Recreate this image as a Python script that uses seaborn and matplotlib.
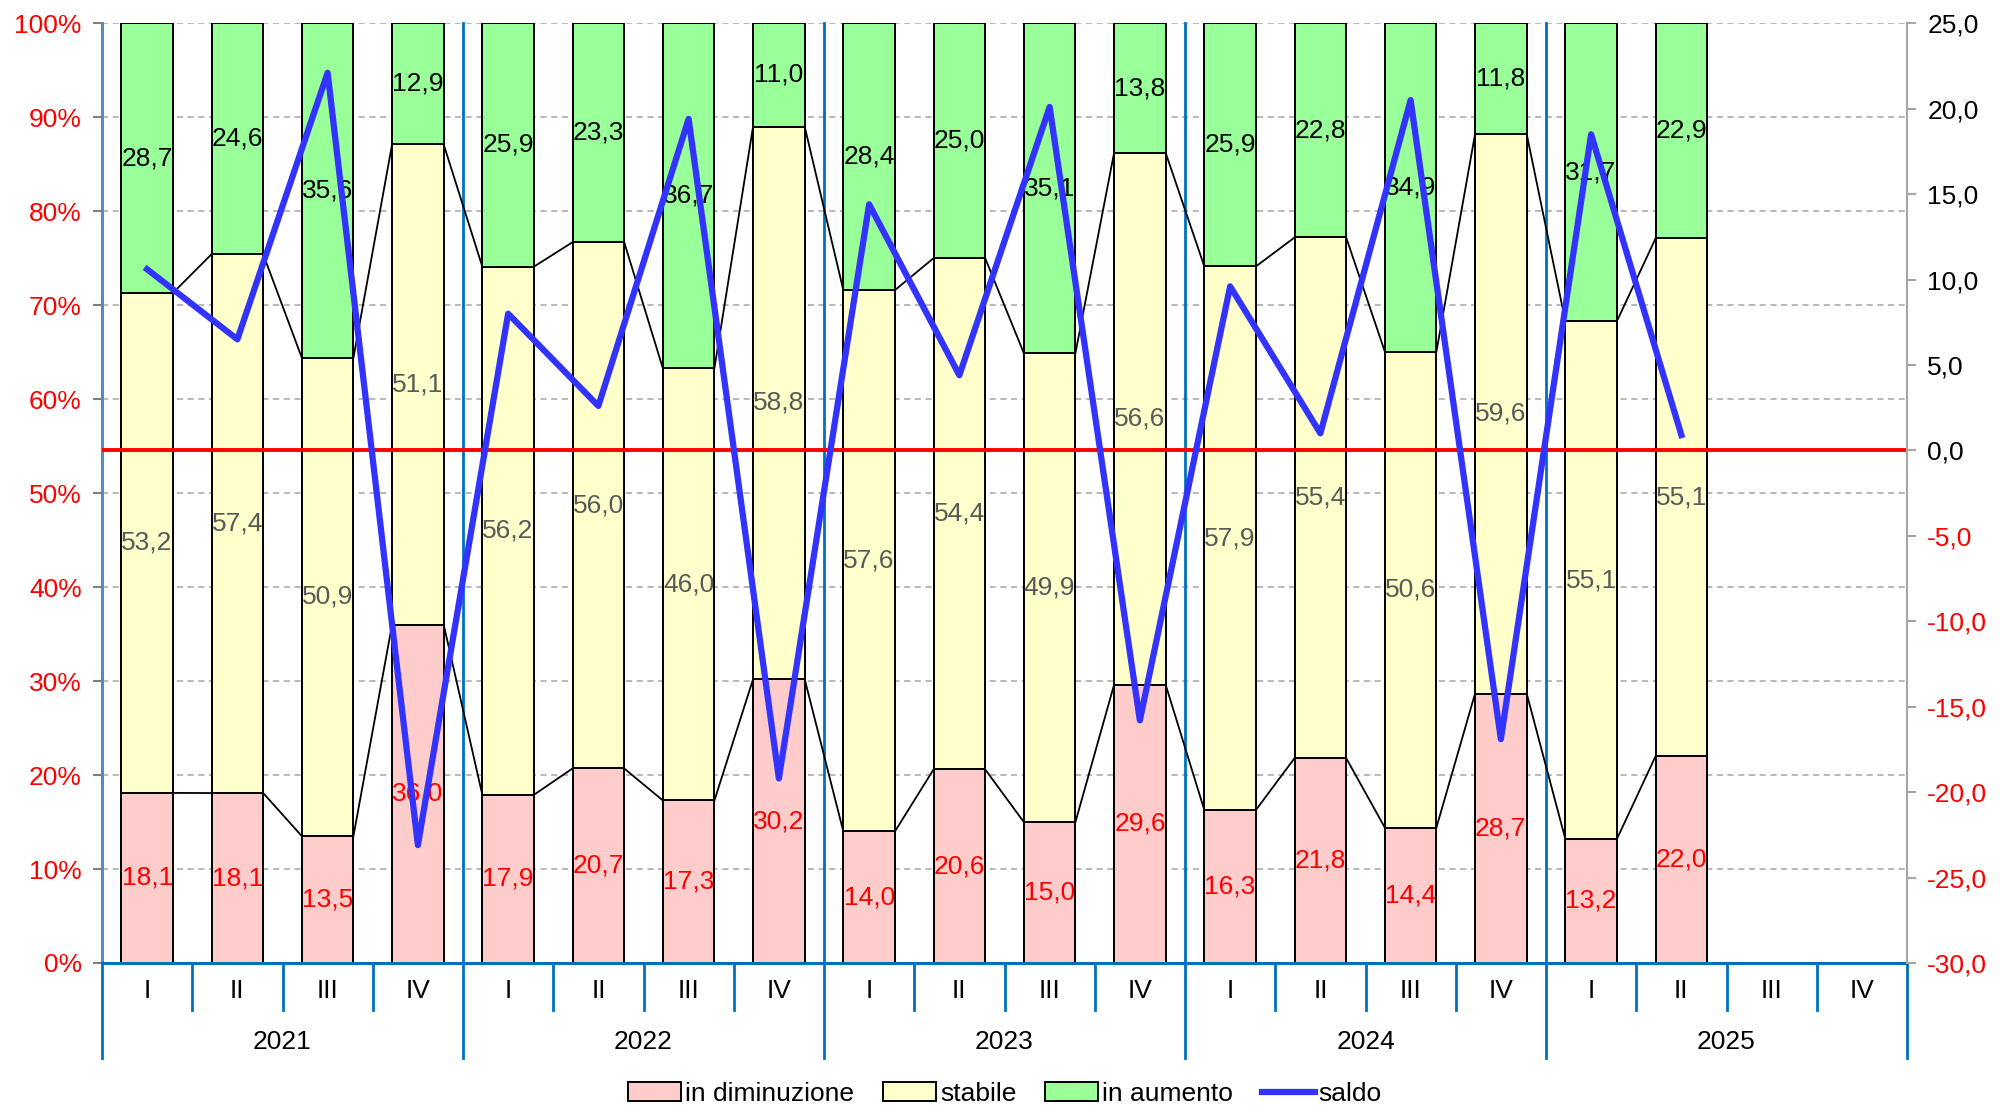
import numpy as np
import pandas as pd
import matplotlib
matplotlib.use("Agg")
import matplotlib.pyplot as plt
import matplotlib.transforms as mtransforms
from matplotlib.patches import Patch
from matplotlib.lines import Line2D
import seaborn as sns

# --- data -------------------------------------------------------------
years = ["2021", "2022", "2023", "2024", "2025"]
quarters = ["I", "II", "III", "IV"]
in_diminuzione = [18.1, 18.1, 13.5, 36.0, 17.9, 20.7, 17.3, 30.2, 14.0,
                  20.6, 15.0, 29.6, 16.3, 21.8, 14.4, 28.7, 13.2, 22.0]
stabile = [53.2, 57.4, 50.9, 51.1, 56.2, 56.0, 46.0, 58.8, 57.6,
           54.4, 49.9, 56.6, 57.9, 55.4, 50.6, 59.6, 55.1, 55.1]
in_aumento = [28.7, 24.6, 35.6, 12.9, 25.9, 23.3, 36.7, 11.0, 28.4,
              25.0, 35.1, 13.8, 25.9, 22.8, 34.9, 11.8, 31.7, 22.9]
saldo = [10.6, 6.5, 22.1, -23.1, 8.0, 2.6, 19.4, -19.2, 14.4,
         4.4, 20.1, -15.8, 9.6, 1.0, 20.5, -16.9, 18.5, 0.9]

C_DIM, C_STA, C_AUM = "#FFCCCC", "#FFFFCC", "#99FF99"
C_SALDO = "#3333FF"
C_SEP = "#0070C0"

plt.rcParams["font.family"] = ["Liberation Sans", "DejaVu Sans"]
FS = 19

slots = [f"{y}-{q}" for y in years for q in quarters]
n = len(in_diminuzione)
dim = np.array(in_diminuzione)
sta = np.array(stabile)
aum = np.array(in_aumento)
tot = dim + sta + aum
df = pd.DataFrame({
    "slot": slots[:n],
    "lev_dim": dim / tot * 100,
    "lev_sta": (dim + sta) / tot * 100,
    "lev_aum": np.full(n, 100.0),
})

fig = plt.figure(figsize=(20, 11.06), dpi=100)
ax = fig.add_axes([0.051, 0.1293, 0.9025, 0.8497])

W = 0.572
bar_kw = dict(order=slots, saturation=1, width=W, edgecolor="black",
              linewidth=1.4, errorbar=None, ax=ax, zorder=2)
sns.barplot(data=df, x="slot", y="lev_aum", color=C_AUM, **bar_kw)
sns.barplot(data=df, x="slot", y="lev_sta", color=C_STA, **bar_kw)
sns.barplot(data=df, x="slot", y="lev_dim", color=C_DIM, **bar_kw)

# thin connector lines between the tops of adjacent segments
pos = np.arange(n)
for lev in (df["lev_dim"].values, df["lev_sta"].values):
    for i in range(n - 1):
        ax.plot([pos[i] + W / 2, pos[i + 1] - W / 2], [lev[i], lev[i + 1]],
                color="black", lw=1.3, zorder=1.5)

# segment value labels
def fmt(v):
    return f"{v:.1f}".replace(".", ",")

for i in range(n):
    y0 = df["lev_dim"].iloc[i]
    y1 = df["lev_sta"].iloc[i]
    ax.text(i, y0 / 2, fmt(dim[i]), color="red", ha="center", va="center",
            fontsize=FS, zorder=4)
    ax.text(i, (y0 + y1) / 2, fmt(sta[i]), color="#595959", ha="center",
            va="center", fontsize=FS, zorder=4)
    ax.text(i, (y1 + 100) / 2, fmt(aum[i]), color="black", ha="center",
            va="center", fontsize=FS, zorder=4)

ax.set_xlim(-0.5, len(slots) - 0.5)
ax.set_ylim(0, 100)
ax.set_yticks(np.arange(0, 101, 10))
ax.set_yticklabels([f"{v}%" for v in range(0, 101, 10)])
ax.tick_params(axis="y", labelcolor="red", color="#7F7F7F", length=6.5,
               width=1.5, pad=8, labelsize=FS)
ax.set_xticks([])
ax.set_xlabel("")
ax.set_ylabel("")
ax.yaxis.grid(True, linestyle=(0, (4, 3)), color="#A6A6A6", lw=1.1)
ax.set_axisbelow(True)
for s in ("top", "right", "left"):
    ax.spines[s].set_visible(False)
ax.spines["bottom"].set_color(C_SEP)
ax.spines["bottom"].set_linewidth(2.2)
ax.spines["bottom"].set_zorder(3)

# category separators and two-level axis labels
trans = mtransforms.blended_transform_factory(ax.transData, ax.transAxes)
for k in range(len(slots) + 1):
    xb = k - 0.5
    if k % 4 == 0:
        top = 1.0 if k < len(slots) else 0.0
        ax.plot([xb, xb], [top, -0.101], transform=trans, color=C_SEP,
                lw=2.0, clip_on=False, zorder=1)
    else:
        ax.plot([xb, xb], [0, -0.05], transform=trans, color=C_SEP,
                lw=2.0, clip_on=False, zorder=1)
for k, s in enumerate(slots):
    ax.text(k, -0.0298, s.split("-")[1], transform=trans, ha="center",
            va="center", fontsize=FS)
for j, y in enumerate(years):
    ax.text(4 * j + 1.5, -0.084, y, transform=trans, ha="center",
            va="center", fontsize=FS)

# balance line on the secondary axis
ax2 = ax.twinx()
ax2.axhline(0, color="red", lw=2.8, zorder=1)
sns.lineplot(x=pos, y=saldo, ax=ax2, color=C_SALDO, lw=4.5, sort=False,
             zorder=3)
ax2.set_ylim(-30, 25)
ax2.set_yticks(np.arange(-30, 26, 5))
ax2.set_yticklabels([fmt(v) for v in range(-30, 26, 5)])
ax2.tick_params(axis="y", color="#A6A6A6", length=6.5, width=1.5, pad=8,
                labelsize=FS)
for lbl, v in zip(ax2.get_yticklabels(), range(-30, 26, 5)):
    lbl.set_color("red" if v < 0 else "black")
for s in ("top", "left", "bottom"):
    ax2.spines[s].set_visible(False)
ax2.spines["right"].set_color("#A6A6A6")
ax2.spines["right"].set_linewidth(1.5)
ax2.set_ylabel("")

# steel-blue left edge of the plot area
ax.plot([-0.5, -0.5], [0, 1], transform=trans, color="#5B8DBF", lw=2.0,
        clip_on=False, zorder=1)

handles = [
    Patch(facecolor=C_DIM, edgecolor="black", lw=1.4),
    Patch(facecolor=C_STA, edgecolor="black", lw=1.4),
    Patch(facecolor=C_AUM, edgecolor="black", lw=1.4),
    Line2D([], [], color=C_SALDO, lw=4.5),
]
fig.legend(handles, ["in diminuzione", "stabile", "in aumento", "saldo"],
           loc="center", bbox_to_anchor=(0.5025, 0.011), ncol=4,
           frameon=False, fontsize=FS, handlelength=2.0, handleheight=0.7,
           handletextpad=0.15, columnspacing=1.1)

fig.savefig("out.png", dpi=100)
